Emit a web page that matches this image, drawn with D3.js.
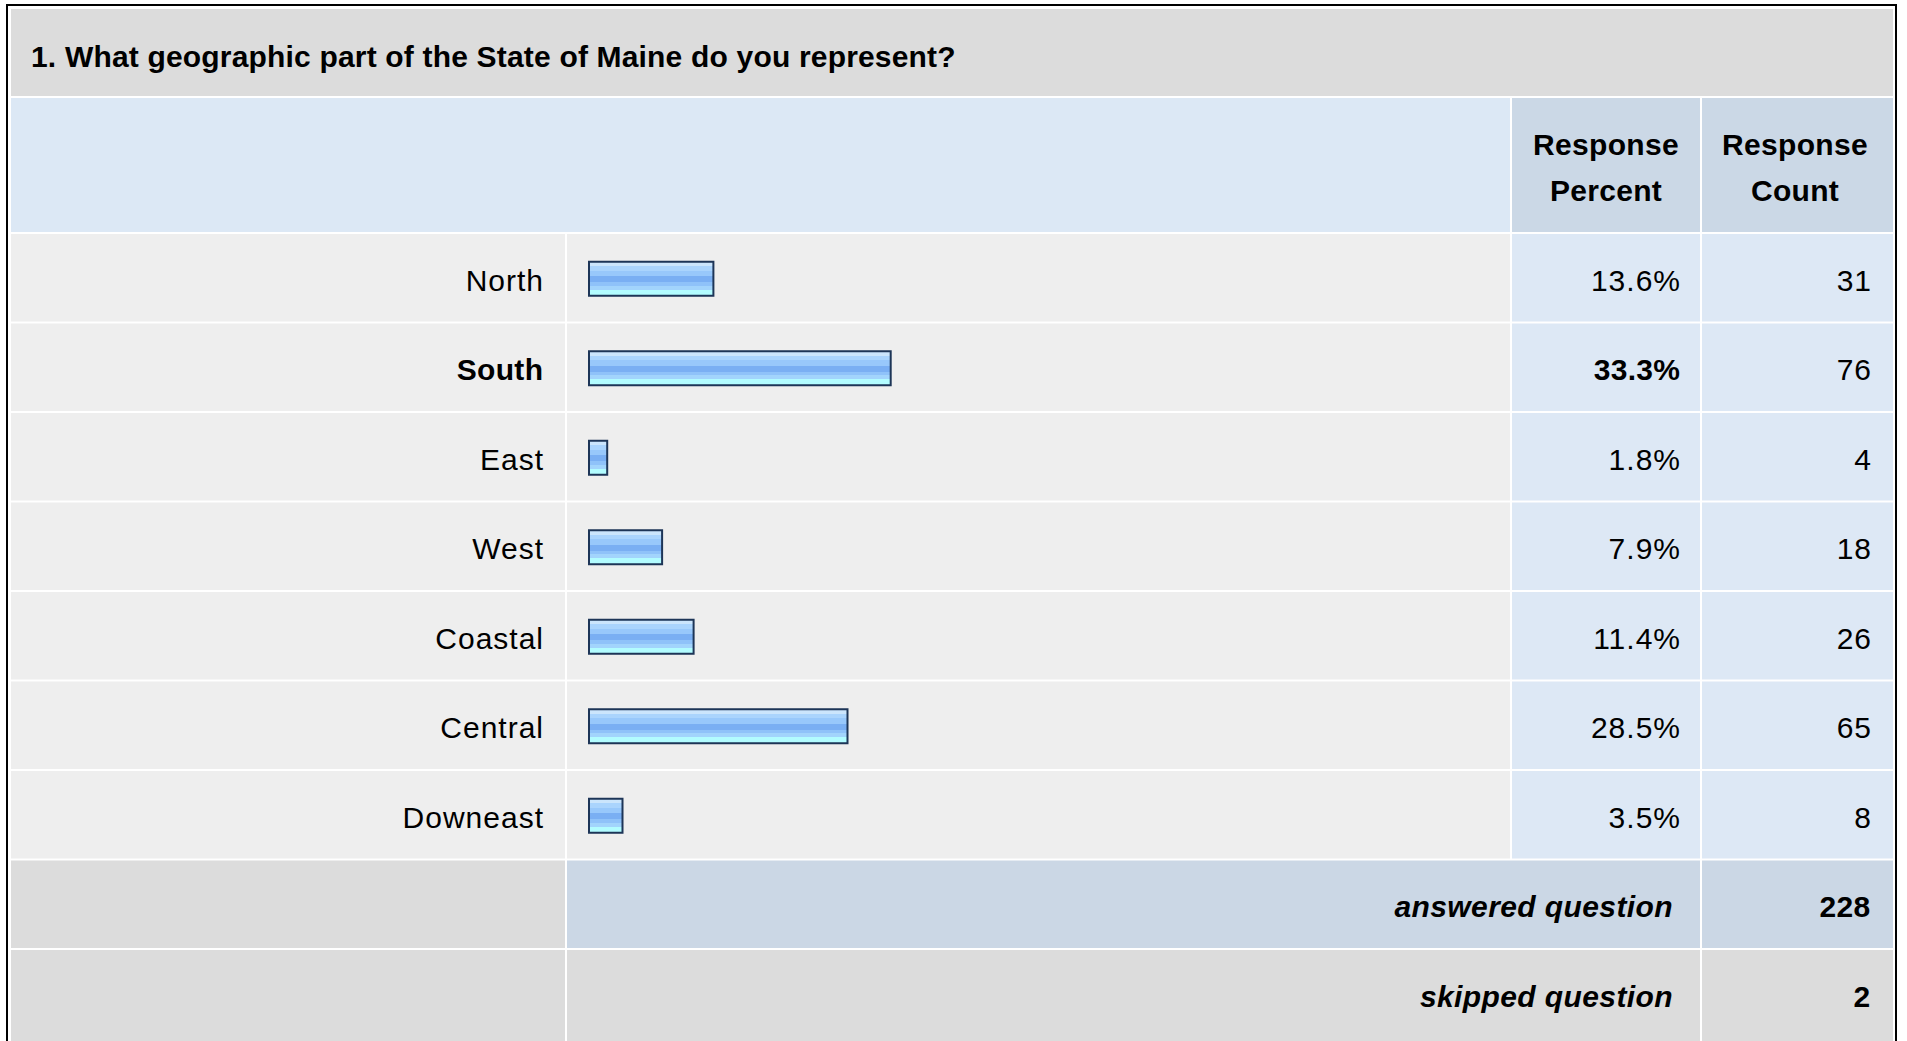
<!DOCTYPE html>
<html>
<head>
<meta charset="utf-8">
<script src="https://cdn.jsdelivr.net/npm/d3@7"></script>
<style>
  body { margin: 0; background: #fff; }
  svg { display: block; font-family: 'Liberation Sans', Arial, sans-serif; }
</style>
</head>
<body>
<svg id="chart" width="1907" height="1041"></svg>
<script>
const title = '1. What geographic part of the State of Maine do you represent?'
const categories = ['North', 'South', 'East', 'West', 'Coastal', 'Central', 'Downeast']
const percents = [13.6, 33.3, 1.8, 7.9, 11.4, 28.5, 3.5]
const counts = [31, 76, 4, 18, 26, 65, 8]
const headers = [['Response', 'Percent'], ['Response', 'Count']]
const totals = [['answered question', 228], ['skipped question', 2]]

const H = 1041
const svg = d3.select('#chart')

// column edges (label | bar | percent | count)
const cols = [[11, 565], [567, 1510], [1512, 1700], [1702, 1893]]
const colW = (c) => c[1] - c[0]

const rowKeys = categories.concat(totals.map((t) => t[0]))
const y = d3.scaleBand()
  .domain(rowKeys)
  .range([234, 234 + 9 * 89.5 - 2])
  .paddingInner(2 / 89.5)
  .paddingOuter(0)

const x = d3.scaleLinear().domain([0, 100]).range([0, 900])

const maxPct = d3.max(percents)

// bar gradient
const defs = svg.append('defs')
const grad = defs.append('linearGradient')
  .attr('id', 'barFill')
  .attr('x1', 0).attr('y1', 0).attr('x2', 0).attr('y2', 1)
const stops = [
  [0, '#cbe5fc'], [0.13, '#cbe5fc'], [0.13, '#aad4fd'], [0.26, '#aad4fd'],
  [0.26, '#98c8fb'], [0.42, '#98c8fb'], [0.42, '#7aaff3'], [0.6, '#7aaff3'],
  [0.6, '#8fc2f9'], [0.7, '#8fc2f9'], [0.7, '#a2d4fc'], [0.82, '#a2d4fc'],
  [0.82, '#b2fcff'], [1, '#b2fcff']
]
grad.selectAll('stop')
  .data(stops)
  .enter().append('stop')
  .attr('offset', (d) => d[0])
  .attr('stop-color', (d) => d[1])

// outer frame
svg.append('rect')
  .attr('x', 7).attr('y', 5)
  .attr('width', 1889).attr('height', H + 10)
  .attr('fill', 'none')
  .attr('stroke', '#000')
  .attr('stroke-width', 2)

// title band
svg.append('rect')
  .attr('x', 11).attr('y', 9)
  .attr('width', 1882).attr('height', 87)
  .attr('fill', '#dcdcdc')
svg.append('text')
  .attr('x', 31).attr('y', 67)
  .style('font-size', '30px')
  .style('font-weight', 'bold')
  .style('letter-spacing', '0.18px')
  .text(title)

// header
svg.append('rect')
  .attr('x', cols[0][0]).attr('y', 98)
  .attr('width', cols[1][1] - cols[0][0]).attr('height', 134)
  .attr('fill', '#dce8f5')
const headerCx = [1606, 1795]
headers.forEach((h, i) => {
  const c = cols[i + 2]
  svg.append('rect')
    .attr('x', c[0]).attr('y', 98)
    .attr('width', colW(c)).attr('height', 134)
    .attr('fill', '#cbd8e6')
  const t = svg.append('text')
    .attr('text-anchor', 'middle')
    .style('font-size', '30px')
    .style('font-weight', 'bold')
    .style('letter-spacing', '0.3px')
  h.forEach((line, j) => {
    t.append('tspan')
      .attr('x', headerCx[i])
      .attr('y', 155 + j * 46)
      .text(line)
  })
})

// data rows
const rows = svg.selectAll('.row')
  .data(categories.map((name, i) => ({name, pct: percents[i], count: counts[i]})))
  .enter().append('g')
  .attr('class', 'row')
  .attr('transform', (d) => `translate(0,${y(d.name)})`)

const bh = y.bandwidth()
rows.append('rect')
  .attr('x', cols[0][0]).attr('width', colW(cols[0])).attr('height', bh)
  .attr('fill', '#eeeeee')
rows.append('rect')
  .attr('x', cols[1][0]).attr('width', colW(cols[1])).attr('height', bh)
  .attr('fill', '#eeeeee')
rows.append('rect')
  .attr('x', cols[2][0]).attr('width', colW(cols[2])).attr('height', bh)
  .attr('fill', '#dde8f5')
rows.append('rect')
  .attr('x', cols[3][0]).attr('width', colW(cols[3])).attr('height', bh)
  .attr('fill', '#dde8f5')

rows.append('rect')
  .attr('class', 'bar')
  .attr('x', 589)
  .attr('y', bh / 2 - 16)
  .attr('width', (d) => x(d.pct) + 2)
  .attr('height', 34)
  .attr('fill', 'url(#barFill)')
  .attr('stroke', '#1d3557')
  .attr('stroke-width', 2)

const isMax = (d) => d.pct === maxPct
const spacing = (d) => isMax(d) ? '0.3px' : '1px'
const baseY = bh / 2 + 13
rows.append('text')
  .attr('x', (d) => isMax(d) ? 543.3 : 544)
  .attr('y', baseY)
  .attr('text-anchor', 'end')
  .style('font-size', '30px')
  .style('letter-spacing', spacing)
  .style('font-weight', (d) => isMax(d) ? 'bold' : 'normal')
  .text((d) => d.name)
rows.append('text')
  .attr('x', (d) => isMax(d) ? 1680.3 : 1681)
  .attr('y', baseY)
  .attr('text-anchor', 'end')
  .style('font-size', '30px')
  .style('letter-spacing', spacing)
  .style('font-weight', (d) => isMax(d) ? 'bold' : 'normal')
  .text((d) => d3.format('.1f')(d.pct) + '%')
rows.append('text')
  .attr('x', 1872).attr('y', baseY)
  .attr('text-anchor', 'end')
  .style('font-size', '30px')
  .style('letter-spacing', '1px')
  .text((d) => d.count)

// totals rows
totals.forEach(([label, value], i) => {
  const top = y(label)
  const h = i === totals.length - 1 ? H - top : bh
  const fill = i === 0 ? '#cbd7e5' : '#dcdcdc'
  svg.append('rect')
    .attr('x', cols[0][0]).attr('y', top)
    .attr('width', colW(cols[0])).attr('height', h)
    .attr('fill', '#dcdcdc')
  svg.append('rect')
    .attr('x', cols[1][0]).attr('y', top)
    .attr('width', cols[2][1] - cols[1][0]).attr('height', h)
    .attr('fill', fill)
  svg.append('rect')
    .attr('x', cols[3][0]).attr('y', top)
    .attr('width', colW(cols[3])).attr('height', h)
    .attr('fill', fill)
  svg.append('text')
    .attr('x', 1673).attr('y', top + baseY)
    .attr('text-anchor', 'end')
    .style('font-size', '30px')
    .style('font-weight', 'bold')
    .style('font-style', 'italic')
    .style('letter-spacing', '0.4px')
    .text(label)
  svg.append('text')
    .attr('x', 1870.5).attr('y', top + baseY)
    .attr('text-anchor', 'end')
    .style('font-size', '30px')
    .style('font-weight', 'bold')
    .style('letter-spacing', '0.3px')
    .text(value)
})
</script>
</body>
</html>
